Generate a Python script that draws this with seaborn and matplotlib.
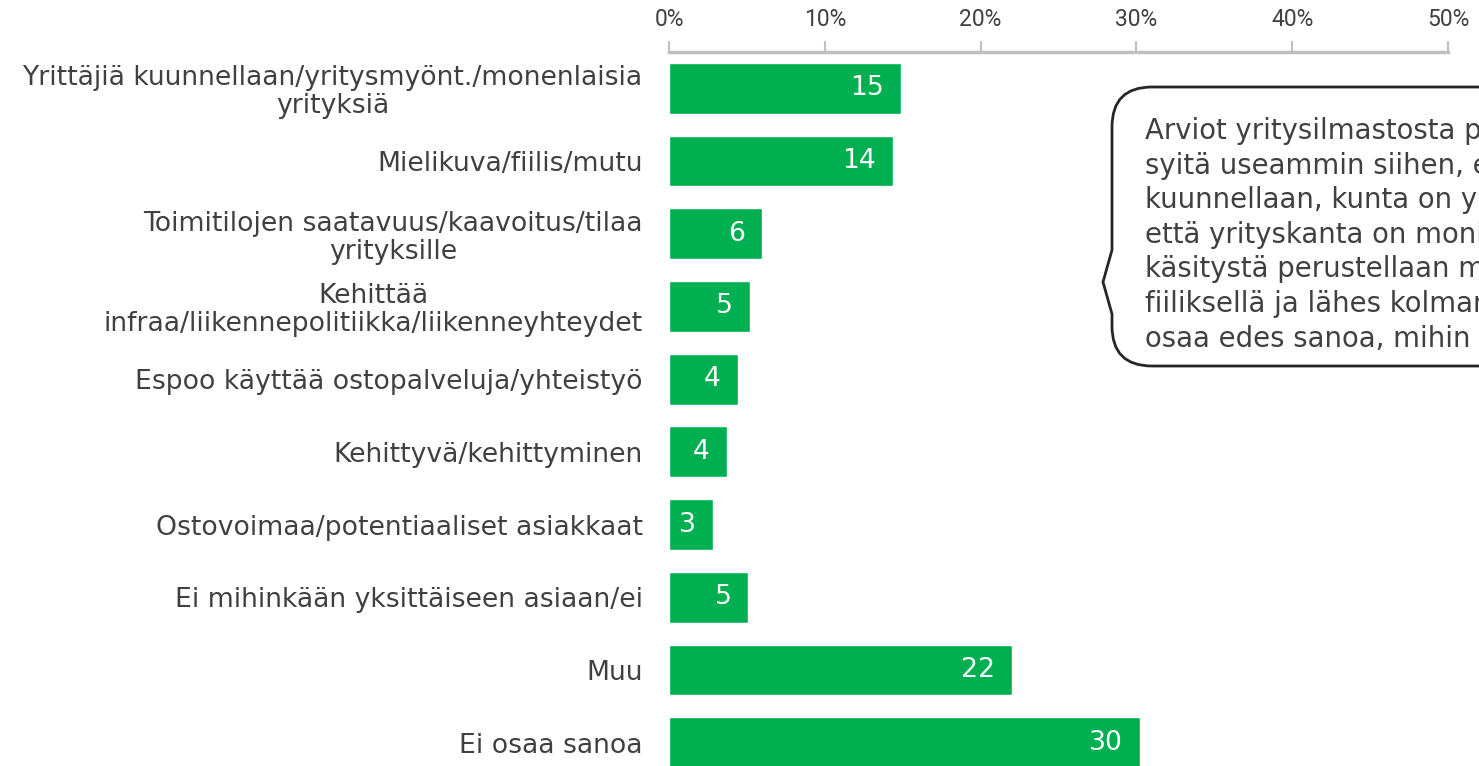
import matplotlib
matplotlib.use("Agg")
import matplotlib.pyplot as plt
import seaborn as sns
from matplotlib.path import Path
from matplotlib.patches import PathPatch

# data (share of respondents, %)
categories = [
    "Yrittäjiä kuunnellaan/yritysmyönt./monenlaisia\nyrityksiä",
    "Mielikuva/fiilis/mutu",
    "Toimitilojen saatavuus/kaavoitus/tilaa\nyrityksille",
    "Kehittää\ninfraa/liikennepolitiikka/liikenneyhteydet",
    "Espoo käyttää ostopalveluja/yhteistyö",
    "Kehittyvä/kehittyminen",
    "Ostovoimaa/potentiaaliset asiakkaat",
    "Ei mihinkään yksittäiseen asiaan/ei",
    "Muu",
    "Ei osaa sanoa",
]
values = [14.9, 14.4, 6.0, 5.2, 4.4, 3.7, 2.8, 5.1, 22.0, 30.2]
xticks = [0, 10, 20, 30, 40, 50]

callout_lines = [
    "Arviot yritysilmastosta perustellaan myönteisiä",
    "syitä useammin siihen, että yrittäjiä",
    "kuunnellaan, kunta on yritysmyönteinen ja",
    "että yrityskanta on monipuolinen. Kielteistä",
    "käsitystä perustellaan muita useammin",
    "fiiliksellä ja lähes kolmannes ei",
    "osaa edes sanoa, mihin se perustuu.",
]

GREEN = "#00B050"
TEXT = "#404040"
GRID = "#BFBFBF"
W, H = 1479, 766

sns.set_style("white")
plt.rcParams["font.family"] = ["DejaVu Sans"]

fig = plt.figure(figsize=(W / 100, H / 100), dpi=100)
ax = fig.add_axes([669 / W, 1 - 779 / H, (1448 - 669) / W, (779 - 52) / H])

sns.barplot(x=values, y=categories, orient="h", color=GREEN, saturation=1,
            width=0.7, ax=ax)

ax.set_xlim(0, 50)
ax.set_xticks(xticks)
ax.set_xticklabels([f"{t}%" for t in xticks], fontsize=16.5, color=TEXT,
                   family=["Roboto", "DejaVu Sans"])
ax.xaxis.tick_top()
ax.tick_params(axis="x", length=8, width=1.5, color=GRID, pad=7)
ax.tick_params(axis="y", length=0, pad=19)
for lbl in ax.get_yticklabels():
    lbl.set_fontsize(19.2)
    lbl.set_color(TEXT)
    lbl.set_multialignment("center")
    lbl.set_linespacing(1.1)
ax.set_xlabel("")
ax.set_ylabel("")
for side in ["bottom", "left", "right"]:
    ax.spines[side].set_visible(False)
ax.spines["top"].set_color(GRID)
ax.spines["top"].set_linewidth(2.5)

# value labels inside the bar ends
for i, v in enumerate(values):
    ax.annotate(f"{v:.0f}", xy=(v, i), xytext=(-17, 0), textcoords="offset pixels",
                ha="right", va="center", color="white", fontsize=19.2)


# speech-bubble callout, partly cut off at the right edge
def fp(x, y):
    return (x / W, 1 - y / H)


verts = [fp(1700, 87), fp(1152, 87), fp(1112, 87), fp(1112, 127),
         fp(1112, 250), fp(1103, 282), fp(1112, 314), fp(1112, 326),
         fp(1112, 366), fp(1152, 366), fp(1700, 366), fp(1700, 87)]
codes = [Path.MOVETO, Path.LINETO, Path.CURVE3, Path.CURVE3,
         Path.LINETO, Path.LINETO, Path.LINETO, Path.LINETO,
         Path.CURVE3, Path.CURVE3, Path.LINETO, Path.CLOSEPOLY]
bubble = PathPatch(Path(verts, codes), transform=fig.transFigure,
                   facecolor="white", edgecolor="#262626", linewidth=2)
fig.patches.append(bubble)

fig.text(1145 / W, 1 - 117 / H, "\n".join(callout_lines), ha="left", va="top",
         fontsize=19.8, color=TEXT, linespacing=1.3)

fig.savefig("out.png", dpi=100)
